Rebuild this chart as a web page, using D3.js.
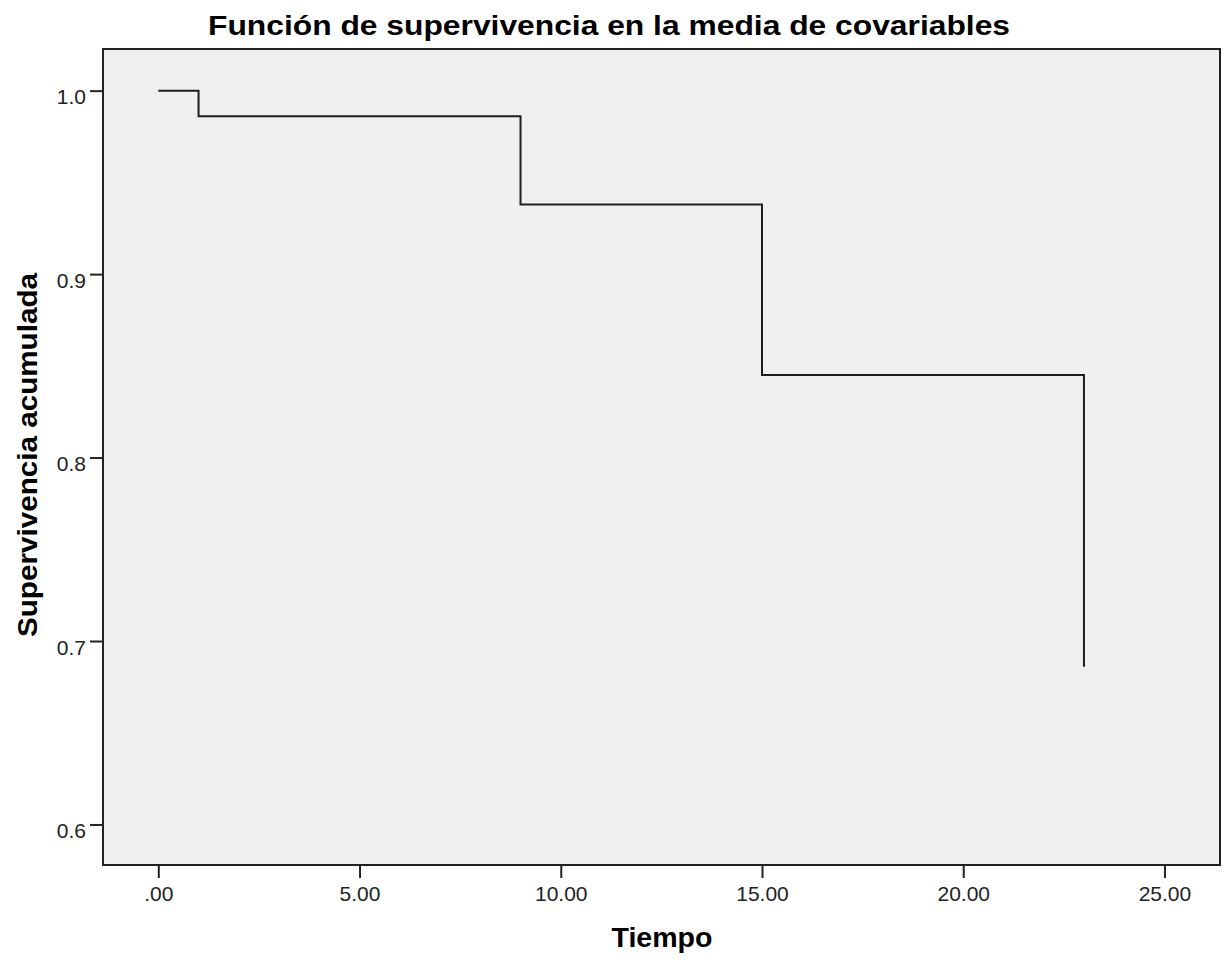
<!DOCTYPE html>
<html>
<head>
<meta charset="utf-8">
<script src="https://cdn.jsdelivr.net/npm/d3@7"></script>
<style>
  html, body { margin: 0; padding: 0; background: #ffffff; }
  svg { display: block; }
  text { font-family: "Liberation Sans", Arial, Helvetica, sans-serif; }
</style>
</head>
<body>
<svg id="chart" width="1224" height="960"></svg>
<script>
// ---- data ----
const times = [0, 1, 9, 15, 23];
const survival = [1.0, 0.986, 0.938, 0.845, 0.686];
const xTicks = [0, 5, 10, 15, 20, 25];
const xTickLabels = [".00", "5.00", "10.00", "15.00", "20.00", "25.00"];
const yTicks = [0.6, 0.7, 0.8, 0.9, 1.0];
const yTickLabels = ["0.6", "0.7", "0.8", "0.9", "1.0"];
const titleText = "Función de supervivencia en la media de covariables";
const xTitle = "Tiempo";
const yTitle = "Supervivencia acumulada";

// ---- layout ----
const plot = { left: 103, right: 1220, top: 49, bottom: 865 };
const svg = d3.select("#chart");

const x = d3.scaleLinear().domain([-1.374, 26.38]).range([plot.left, plot.right]);
const y = d3.scaleLinear().domain([0.5779, 1.0227]).range([plot.bottom, plot.top]);

// background
svg.append("rect")
  .attr("x", plot.left).attr("y", plot.top)
  .attr("width", plot.right - plot.left).attr("height", plot.bottom - plot.top)
  .attr("fill", "#f0f0f0")
  .attr("stroke", "#222").attr("stroke-width", 2);

// axes
const xAxis = d3.axisBottom(x).tickValues(xTicks)
  .tickFormat((d, i) => xTickLabels[i]).tickSizeOuter(0).tickSizeInner(13).tickPadding(8);
const yAxis = d3.axisLeft(y).tickValues(yTicks)
  .tickFormat((d, i) => yTickLabels[i]).tickSizeOuter(0).tickSizeInner(13).tickPadding(4);

const gx = svg.append("g").attr("transform", `translate(0,${plot.bottom})`).call(xAxis);
const gy = svg.append("g").attr("transform", `translate(${plot.left},0)`).call(yAxis);
[gx, gy].forEach(g => {
  g.select(".domain").remove();
  g.selectAll(".tick line").attr("stroke", "#222").attr("stroke-width", 2);
  g.selectAll(".tick text").attr("fill", "#222").style("font-size", "21px")
    .style("font-family", "'Liberation Sans', Arial, sans-serif");
});
gy.selectAll(".tick text").attr("dy", "0.62em");

// survival step line
const pts = times.map((t, i) => [t, survival[i]]);
const line = d3.line().x(d => x(d[0])).y(d => y(d[1])).curve(d3.curveStepAfter);
svg.append("path").datum(pts)
  .attr("d", line)
  .attr("fill", "none")
  .attr("stroke", "#1e1e1e")
  .attr("stroke-width", 2);

// titles
svg.append("text")
  .attr("x", 609).attr("y", 35)
  .attr("text-anchor", "middle")
  .attr("font-weight", "bold").style("font-size", "28px")
  .attr("fill", "#000")
  .attr("textLength", 802).attr("lengthAdjust", "spacingAndGlyphs")
  .text(titleText);

svg.append("text")
  .attr("x", 662).attr("y", 947)
  .attr("text-anchor", "middle")
  .attr("font-weight", "bold").style("font-size", "27px")
  .attr("fill", "#000")
  .attr("textLength", 101).attr("lengthAdjust", "spacingAndGlyphs")
  .text(xTitle);

svg.append("text")
  .attr("transform", "translate(37,455) rotate(-90)")
  .attr("text-anchor", "middle")
  .attr("font-weight", "bold").style("font-size", "27px")
  .attr("fill", "#000")
  .attr("textLength", 364).attr("lengthAdjust", "spacingAndGlyphs")
  .text(yTitle);
</script>
</body>
</html>
